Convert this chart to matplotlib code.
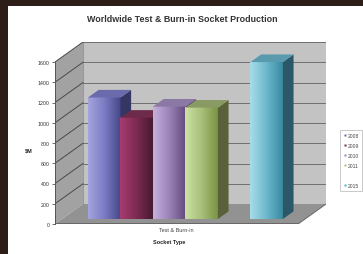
import matplotlib
matplotlib.use("Agg")
import matplotlib.pyplot as plt
import numpy as np
from matplotlib.patches import Polygon, Rectangle
from matplotlib.lines import Line2D
from matplotlib.colors import LinearSegmentedColormap

# data
years = ["2008", "2009", "2010", "2011", "", "2015"]
values = [1200, 1000, 1110, 1100, None, 1550]
category = "Test & Burn-in"
yticks = [0, 200, 400, 600, 800, 1000, 1200, 1400, 1600]

# colours per series: (front light, front mid, front dark, side, top, legend)
colors = [
    ("#a4a4dc", "#7b7bc4", "#46468a", "#363665", "#6a6aac", "#6868b0"),
    ("#a63c70", "#7e2a52", "#461a30", "#34141f", "#6e2a4a", "#7a2850"),
    ("#c4b0dc", "#9a82b8", "#644a7c", "#4a3a5c", "#8c78a4", "#9880b8"),
    ("#cce0a4", "#a8c07a", "#7a9444", "#58613a", "#8a9a64", "#a4c068"),
    None,
    ("#a8dcea", "#6cb8cc", "#3a8aa2", "#2a5868", "#5a9aae", "#48b0c8"),
]

fig = plt.figure(figsize=(3.63, 2.55), dpi=100)
fig.patch.set_facecolor("#2c1d18")
fig.patches.append(Rectangle((8 / 363, 0), 1, 1 - 7 / 255, transform=fig.transFigure,
                             facecolor="white", edgecolor="none", zorder=-5))

ax = fig.add_axes([55 / 363, 1 - 225 / 255, 271 / 363, 182 / 255])
ax.set_facecolor("none")

# pseudo 3d geometry (data units)
x0, x1 = -0.8, 6.68
ymax = 1600
DX = 28 / 32.5
DY = 20 * ymax / 162
d0, d1 = 0.25, 0.63
ax.set_xlim(x0, x1 + DX)
ax.set_ylim(0, ymax + DY)

# back wall, side wall, floor
ax.add_patch(Polygon([(x0 + DX, DY), (x1 + DX, DY), (x1 + DX, ymax + DY), (x0 + DX, ymax + DY)],
                     closed=True, facecolor="#c3c3c3", edgecolor="#8a8a8a", lw=0.6, zorder=0))
ax.add_patch(Polygon([(x0, 0), (x0 + DX, DY), (x0 + DX, ymax + DY), (x0, ymax)],
                     closed=True, facecolor="#a2a2a2", edgecolor="none", zorder=0))
ax.add_patch(Polygon([(x0, 0), (x1, 0), (x1 + DX, DY), (x0 + DX, DY)],
                     closed=True, facecolor="#929292", edgecolor="none", zorder=0.2))
ax.plot([x0, x1], [0, 0], color="#606060", lw=1.2, zorder=0.3)
ax.plot([x1, x1 + DX], [0, DY], color="#707070", lw=0.8, zorder=0.3)

# gridlines on back and side walls
for v in yticks[1:]:
    ax.plot([x0 + DX, x1 + DX], [v + DY, v + DY], color="#707070", lw=0.7, zorder=0.5)
    ax.plot([x0, x0 + DX], [v, v + DY], color="#4a4a4a", lw=0.7, zorder=0.5)

# bars
for i, (v, c) in enumerate(zip(values, colors)):
    if v is None:
        continue
    z = 2 + i * 0.1
    bx = i + d0 * DX
    by = d0 * DY
    cmap = LinearSegmentedColormap.from_list("g%d" % i, [c[0], c[1], c[2]])
    grad = np.linspace(0, 1, 64).reshape(1, -1)
    ax.imshow(grad, cmap=cmap, extent=[bx, bx + 1, by, by + v], aspect="auto",
              interpolation="bilinear", zorder=z)
    ex = (d1 - d0) * DX
    ey = (d1 - d0) * DY
    ax.add_patch(Polygon([(bx + 1, by), (bx + 1 + ex, by + ey), (bx + 1 + ex, by + ey + v), (bx + 1, by + v)],
                         closed=True, facecolor=c[3], edgecolor="none", zorder=z))
    ax.add_patch(Polygon([(bx, by + v), (bx + 1, by + v), (bx + 1 + ex, by + v + ey), (bx + ex, by + v + ey)],
                         closed=True, facecolor=c[4], edgecolor="none", zorder=z))

# axes styling
for s in ["top", "right", "bottom"]:
    ax.spines[s].set_visible(False)
ax.spines["left"].set_bounds(0, ymax)
ax.spines["left"].set_color("#555555")
ax.spines["left"].set_linewidth(0.7)
ax.set_yticks(yticks)
ax.set_yticklabels([str(t) for t in yticks])
ax.tick_params(axis="y", length=2, width=0.6, color="#555555", labelsize=3.8,
               labelcolor="#333333", pad=2)
ax.set_xticks([(x0 + x1) / 2])
ax.set_xticklabels([category])
ax.tick_params(axis="x", length=0, labelsize=4, labelcolor="#444444", pad=2)
for lab in ax.get_xticklabels() + ax.get_yticklabels():
    lab.set_family("Liberation Sans")

fig.text(182 / 363, 1 - 20 / 255, "Worldwide Test & Burn-in Socket Production",
         ha="center", va="center", fontsize=6.4, fontweight="bold",
         family="Liberation Sans", color="#333333")
fig.text(29 / 363, 1 - 151 / 255, r"\$M", ha="center", va="center", fontsize=4,
         fontweight="bold", family="Liberation Sans", color="#222222")
fig.text(169 / 363, 1 - 243 / 255, "Socket Type", ha="center", va="center", fontsize=4,
         fontweight="bold", family="Liberation Sans", color="#222222")

# legend
handles = []
for y, c in zip(years, colors):
    if c is None:
        handles.append(Line2D([], [], linestyle="none", marker="s", markersize=0, label=" "))
    else:
        handles.append(Line2D([], [], linestyle="none", marker="s", markersize=2,
                              markerfacecolor=c[5], markeredgecolor="none", label=y))
leg = fig.legend(handles=handles, loc="upper left", bbox_to_anchor=(340 / 363, 1 - 131 / 255),
                 frameon=True, fancybox=False, edgecolor="#b0b0b0",
                 handlelength=0.6, handletextpad=0.3, labelspacing=1.0, borderpad=0.6,
                 borderaxespad=0, prop={"family": "Liberation Sans", "size": 3.6})
leg.get_frame().set_linewidth(0.6)
for t in leg.get_texts():
    t.set_color("#444444")

fig.savefig("out.png", dpi=100, facecolor=fig.get_facecolor())
